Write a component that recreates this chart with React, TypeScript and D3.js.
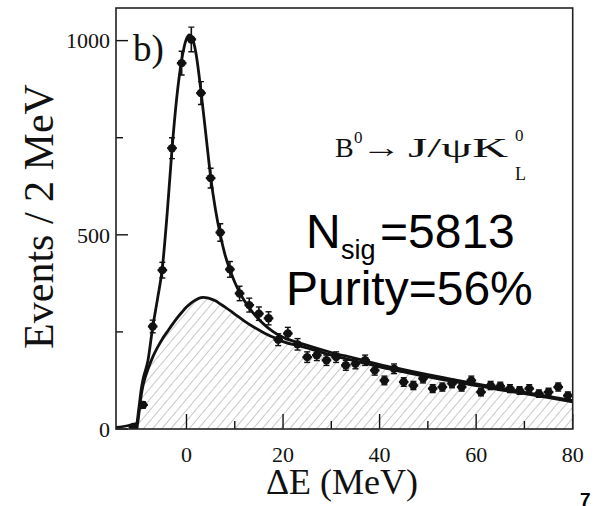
import React from "react";
import * as d3 from "d3";

// ---- data ----
const binCenters = [-11,-9,-7,-5,-3,-1,1,3,5,7,9,11,13,15,17,19,21,23,25,27,29,31,33,35,37,39,41,43,45,47,49,51,53,55,57,59,61,63,65,67,69,71,73,75,77,79];
const counts = [5,62,264,409,723,942,1003,865,646,506,411,349,319,297,285,230,246,218,185,190,177,185,164,168,177,151,125,155,121,112,130,104,108,117,108,125,95,112,110,104,99,104,91,95,108,86];

const bgX = [-10.3,-10.0,-9.7,-9.4,-9,-8.5,-8,-7,-6,-5,-4,-3,-2,-1,0,1,2,3,3.5,4,5,6,7,8,10,12,14,16,18,20,24,30,35,40,45,50,55,60,65,70,75,80];
const bgY = [0,25,55,85,112,135,153,185,210,232,250,268,285,300,314,325,333,338,339,338,335,330,322,314,296,278,262,248,236,225,212,190,175,160,147,134,123,112,101,91,81,70];

const totX = [-14.6,-12,-11,-10.3,-10.0,-9.7,-9.4,-9,-8,-7,-6,-5,-4,-3,-2,-1,0,0.6,1,1.5,2,3,4,5,6,7,8,9,10,11,12,13,14,16,18,20,24,30,35,40,45,50,55,60,65,70,75,80];
const totY = [4,9,12,15,40,70,100,128,175,262,335,415,555,720,855,950,1005,1015,1012,995,965,870,760,650,565,500,448,410,378,352,330,312,296,270,250,236,219,197,182,166,153,140,128,116,105,94,84,73];

const xMajorTicks = [0, 20, 40, 60, 80];
const xMinorTicks = [10, 30, 50, 70];
const yMajorTicks = [0, 500, 1000];
const yMinorTicks = [250, 750];

const W = 599, H = 506;
const L = 116, R = 572.7, T = 8, B = 429;

export default function App() {
  const x = d3.scaleLinear().domain([-14.6, 80]).range([L, R]);
  const y = d3.scaleLinear().domain([0, 1084]).range([B, T]);

  const bgPts = bgX.map((v, i) => [v, bgY[i]] as [number, number]);
  const totPts = totX.map((v, i) => [v, totY[i]] as [number, number]);

  const line = d3.line<[number, number]>().x(d => x(d[0])).y(d => y(d[1])).curve(d3.curveMonotoneX);
  const area = d3.area<[number, number]>().x(d => x(d[0])).y0(y(0)).y1(d => y(d[1])).curve(d3.curveMonotoneX);

  const serif = "'Liberation Serif', 'Times New Roman', serif";
  const sans = "'Liberation Sans', Arial, sans-serif";
  const ink = "#111";

  return (
    <svg width={W} height={H} style={{ position: "absolute", left: 0, top: 0, background: "#fff" }}>
      <defs>
        <pattern id="hatch" width="7" height="7" patternUnits="userSpaceOnUse" patternTransform="rotate(40)">
          <line x1="0" y1="0" x2="0" y2="7" stroke="#9a9a9a" strokeWidth="1.1" />
        </pattern>
        <clipPath id="plotClip">
          <rect x={L} y={T} width={R - L} height={B - T} />
        </clipPath>
      </defs>
      <rect x={0} y={0} width={W} height={H} fill="#fff" />

      <g clipPath="url(#plotClip)">
        <path d={area(bgPts) || ""} fill="url(#hatch)" />
        <path d={line(bgPts) || ""} fill="none" stroke={ink} strokeWidth={2.8} />
        <path d={line(totPts) || ""} fill="none" stroke={ink} strokeWidth={2.8} />
        {binCenters.map((c, i) => {
          const v = counts[i];
          const e = Math.sqrt(v);
          const cx = x(c), cy = y(v);
          const yt = y(v + e), yb = y(Math.max(0, v - e));
          return (
            <g key={i} stroke={ink} fill={ink}>
              <line x1={x(c - 1)} x2={x(c + 1)} y1={cy} y2={cy} strokeWidth={2.2} />
              <line x1={cx} x2={cx} y1={yt} y2={yb} strokeWidth={1.6} />
              <line x1={cx - 3} x2={cx + 3} y1={yt} y2={yt} strokeWidth={1.4} />
              <line x1={cx - 3} x2={cx + 3} y1={yb} y2={yb} strokeWidth={1.4} />
              <circle cx={cx} cy={cy} r={4.2} stroke="none" />
            </g>
          );
        })}
      </g>

      {/* ticks */}
      {xMajorTicks.map(t => (
        <line key={"xM" + t} x1={x(t)} x2={x(t)} y1={B} y2={B - 15} stroke={ink} strokeWidth={1.4} />
      ))}
      {xMinorTicks.map(t => (
        <line key={"xm" + t} x1={x(t)} x2={x(t)} y1={B} y2={B - 8} stroke={ink} strokeWidth={1.4} />
      ))}
      {yMajorTicks.map(t => (
        <line key={"yM" + t} x1={L} x2={L + 12} y1={y(t)} y2={y(t)} stroke={ink} strokeWidth={1.4} />
      ))}
      {yMinorTicks.map(t => (
        <line key={"ym" + t} x1={L} x2={L + 7} y1={y(t)} y2={y(t)} stroke={ink} strokeWidth={1.4} />
      ))}

      {/* frame */}
      <rect x={L} y={T} width={R - L} height={B - T} fill="none" stroke="#222" strokeWidth={1.6} />

      {/* tick labels */}
      {xMajorTicks.map(t => (
        <text key={"xl" + t} x={x(t)} y={462} textAnchor="middle" fontFamily={serif} fontSize={22} fill={ink}>{t}</text>
      ))}
      {yMajorTicks.map(t => (
        <text key={"yl" + t} x={110} y={y(t)} dy="0.35em" textAnchor="end" fontFamily={serif} fontSize={22} fill={ink}>{t}</text>
      ))}

      {/* axis titles */}
      <text x={342} y={494} textAnchor="middle" fontFamily={serif} fontSize={36} fill={ink}>ΔE (MeV)</text>
      <text transform={`translate(53,216.5) rotate(-90)`} textAnchor="middle" fontFamily={serif} fontSize={42} fill={ink}>Events / 2 MeV</text>

      {/* panel label */}
      <text x={133} y={61} fontFamily={serif} fontSize={37} fill={ink}>b)</text>

      {/* decay label */}
      <text fontFamily={serif} fontSize={28} fill={ink}>
        <tspan x={335} y={157}>B</tspan>
        <tspan x={354} y={143} fontSize={17}>0</tspan>
        <tspan x={361} y={157} textLength={40} lengthAdjust="spacingAndGlyphs">→</tspan>
        <tspan x={408} y={157} textLength={100} lengthAdjust="spacingAndGlyphs">J/ψK</tspan>
        <tspan x={515} y={141} fontSize={17}>0</tspan>
        <tspan x={515} y={180} fontSize={18}>L</tspan>
      </text>

      {/* fit results */}
      <text fontFamily={sans} fill="#000">
        <tspan x={306} y={248} fontSize={48}>N</tspan>
        <tspan x={341} y={259} fontSize={27}>sig</tspan>
        <tspan x={380} y={248} fontSize={48}>=5813</tspan>
      </text>
      <text x={286} y={305} fontFamily={sans} fontSize={48} fill="#000">Purity=56%</text>

      {/* slide page number */}
      <text x={580} y={506} fontFamily={sans} fontSize={19} fontWeight="bold" fill="#000">7</text>
    </svg>
  );
}
